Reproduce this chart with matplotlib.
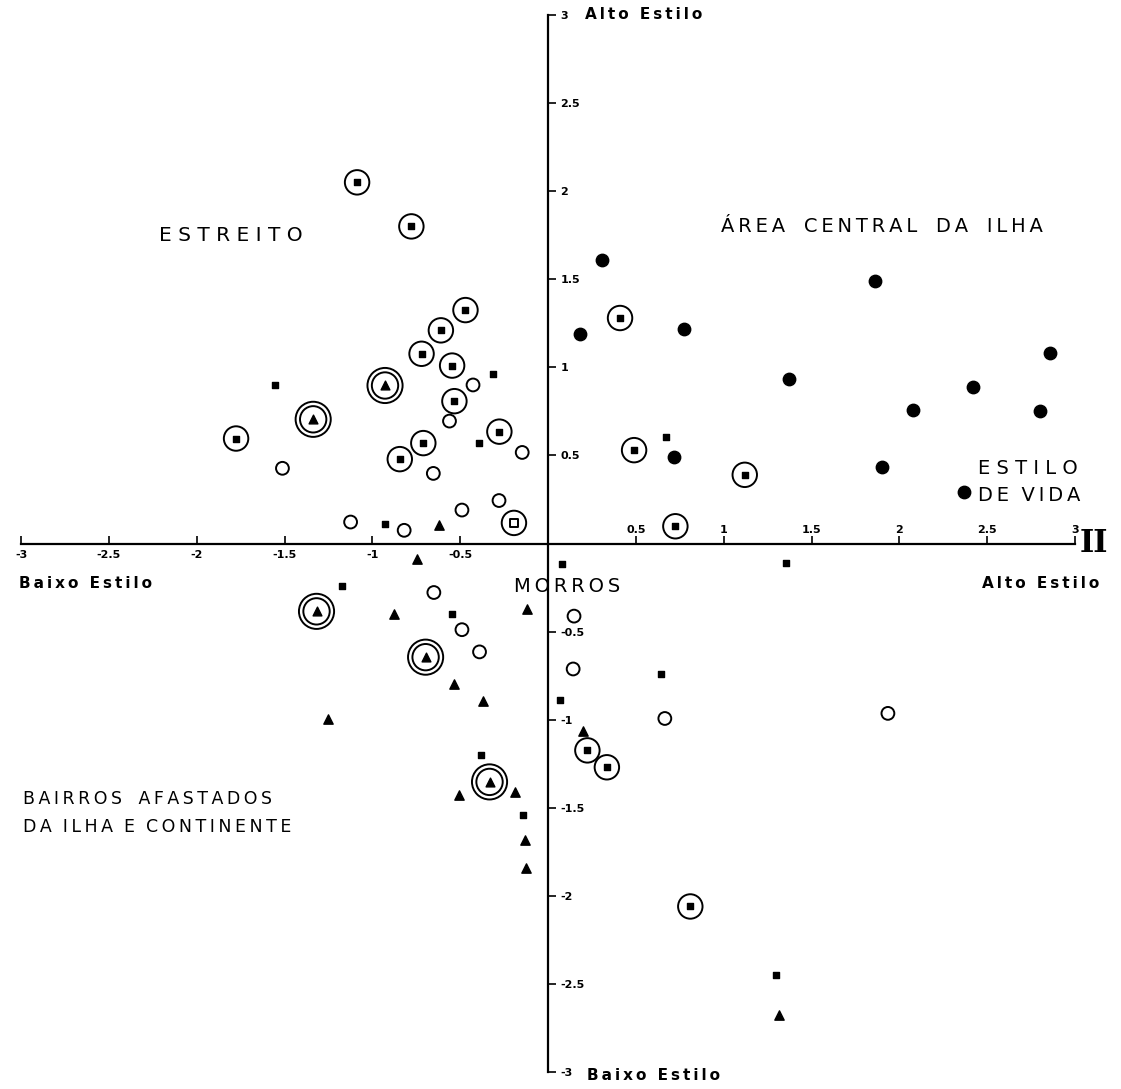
import matplotlib.pyplot as plt

# component scores
centro_x = [0.18, 0.307, 0.776, 1.86, 1.37, 2.86, 2.42, 2.08, 2.80, 1.90, 2.37, 0.715]
centro_y = [1.19, 1.607, 1.22, 1.49, 0.936, 1.08, 0.89, 0.756, 0.75, 0.436, 0.29, 0.49]

quad_x = [-1.557, -0.316, -0.395, -0.927, 0.67, -1.173, -0.546, -0.38, -0.141,
          0.08, 1.355, 0.643, 0.067, 1.297]
quad_y = [0.897, 0.96, 0.568, 0.109, 0.605, -0.24, -0.40, -1.203, -1.538,
          -0.116, -0.109, -0.74, -0.89, -2.448]

quad_circ_x = [-1.087, -0.778, -0.47, -0.61, -0.72, -0.546, -0.533, -1.776, -0.277,
               -0.71, -0.844, 0.41, 0.49, 1.12, 0.725, 0.224, 0.335, 0.81]
quad_circ_y = [2.05, 1.80, 1.325, 1.21, 1.077, 1.01, 0.808, 0.596, 0.635,
               0.57, 0.479, 1.28, 0.53, 0.39, 0.098, -1.174, -1.27, -2.06]

aberto_x = [-0.427, -0.561, -0.147, -1.512, -0.653, -0.279, -0.49, -1.124, -0.819,
            -0.65, -0.49, -0.39, 0.148, 0.143, 0.665, 1.935]
aberto_y = [0.90, 0.695, 0.517, 0.427, 0.398, 0.244, 0.19, 0.122, 0.075,
            -0.278, -0.489, -0.615, -0.412, -0.712, -0.993, -0.964]

tri_x = [-0.618, -0.744, -0.876, -0.117, -0.533, -0.371, -1.252, -0.505, -0.188,
         -0.132, -0.126, 0.2, 1.314]
tri_y = [0.103, -0.088, -0.40, -0.37, -0.80, -0.893, -0.996, -1.43, -1.41,
         -1.68, -1.84, -1.064, -2.676]

tri_duplo_x = [-0.928, -1.337, -1.318, -0.697, -0.333]
tri_duplo_y = [0.897, 0.705, -0.385, -0.645, -1.353]

quad_aberto_x = [-0.194]
quad_aberto_y = [0.117]

ticks = [-3, -2.5, -2, -1.5, -1, -0.5, 0.5, 1, 1.5, 2, 2.5, 3]
tick_labels = ["-3", "-2.5", "-2", "-1.5", "-1", "-0.5", "0.5", "1", "1.5", "2", "2.5", "3"]


def spaced(txt, sep="\u2009"):
    # the hand lettering is widely tracked
    return sep.join(txt)


plt.rcParams['font.family'] = ['DejaVu Sans']

fig = plt.figure(figsize=(11.21, 10.89), dpi=100)
ax = fig.add_axes([0, 0, 1, 1])
ax.set_xlim(-3.12, 3.262)
ax.set_ylim(-3.096, 3.085)

# axes crossing at the origin
ax.spines['top'].set_visible(False)
ax.spines['left'].set_visible(False)
ax.spines['bottom'].set_position(('data', 0))
ax.spines['bottom'].set_bounds(-3, 3)
ax.spines['right'].set_position(('data', 0))
ax.spines['right'].set_bounds(-3, 3)
for s in ('bottom', 'right'):
    ax.spines[s].set_linewidth(1.6)

ax.xaxis.set_ticks_position('bottom')
ax.yaxis.set_ticks_position('right')
ax.set_xticks(ticks)
ax.set_xticklabels([l if v < 0 else "" for v, l in zip(ticks, tick_labels)],
                   fontweight='bold')
ax.set_yticks(ticks)
ax.set_yticklabels(tick_labels, fontweight='bold')
ax.tick_params(axis='x', direction='in', length=6, width=1.2, labelsize=8, pad=5)
ax.tick_params(axis='y', direction='out', length=6, width=1.2, labelsize=8, pad=3)
for v, l in zip(ticks, tick_labels):
    if v > 0:
        ax.text(v, 0.05, l, ha='center', va='bottom', fontsize=8, fontweight='bold')

# markers
ring = dict(facecolors='none', edgecolors='black', linewidths=1.4)
ax.scatter(centro_x, centro_y, s=80, c='black', marker='o')
ax.scatter(quad_x, quad_y, s=24, c='black', marker='s')
ax.scatter(quad_circ_x, quad_circ_y, s=310, marker='o', **ring)
ax.scatter(quad_circ_x, quad_circ_y, s=22, c='black', marker='s')
ax.scatter(aberto_x, aberto_y, s=85, marker='o', **ring)
ax.scatter(tri_x, tri_y, s=45, c='black', marker='^')
ax.scatter(tri_duplo_x, tri_duplo_y, s=640, marker='o', **ring)
ax.scatter(tri_duplo_x, tri_duplo_y, s=360, marker='o', **ring)
ax.scatter(tri_duplo_x, tri_duplo_y, s=40, c='black', marker='^')
ax.scatter(quad_aberto_x, quad_aberto_y, s=310, marker='o', **ring)
ax.scatter(quad_aberto_x, quad_aberto_y, s=40, marker='s', **ring)

# axis end labels
ends = dict(fontsize=11, fontweight='bold', color='black', va='center')
ax.text(0.21, 3.0, spaced("Alto Estilo"), ha='left', **ends)
ax.text(0.22, -3.02, spaced("Baixo Estilo"), ha='left', **ends)
ax.text(-3.01, -0.227, spaced("Baixo Estilo"), ha='left', **ends)
ax.text(3.136, -0.227, spaced("Alto Estilo"), ha='right', **ends)
ax.text(3.11, 0.0, "II", ha='center', va='center', fontsize=22,
        family='DejaVu Serif', fontweight='bold')

# group labels
grp = dict(fontsize=14, color='black', va='center')
ax.text(-1.807, 1.75, spaced("ESTREITO", " "), ha='center', fontsize=14.5,
        color='black', va='center')
ax.text(1.90, 1.80, spaced("ÁREA") + "   " + spaced("CENTRAL") + "   "
        + spaced("DA") + "   " + spaced("ILHA"), ha='center', **grp)
ax.text(2.45, 0.426, spaced("ESTILO", " "), ha='left', **grp)
ax.text(2.45, 0.273, spaced("DE") + "  " + spaced("VIDA"), ha='left', **grp)
ax.text(0.108, -0.244, spaced("MORROS"), ha='center', **grp)

low = dict(fontsize=12.5, color='black', va='center', ha='left')
ax.text(-2.99, -1.449, spaced("BAIRROS") + "   " + spaced("AFASTADOS"), **low)
ax.text(-2.99, -1.608, spaced("DA") + "  " + spaced("ILHA") + "  E  "
        + spaced("CONTINENTE"), **low)

fig.savefig("out.png", dpi=100)
